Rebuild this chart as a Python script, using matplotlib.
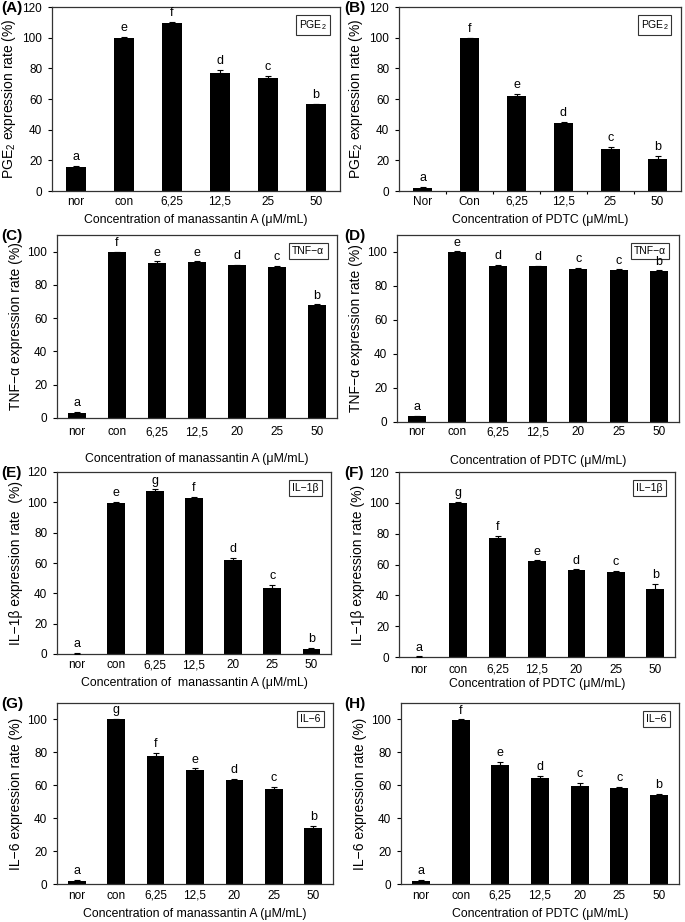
import numpy as np
import matplotlib
matplotlib.use('Agg')
import matplotlib.pyplot as plt

plt.rcParams.update({'font.family': ['Liberation Sans', 'DejaVu Sans'],
                     'font.size': 9, 'axes.linewidth': 0.9,
                     'axes.edgecolor': '#333333',
                     'mathtext.fontset': 'custom',
                     'mathtext.rm': 'Liberation Sans'})

# ---- data ----
cats_a = ['nor', 'con', '6,25', '12,5', '25', '50']
vals_a = [15.7, 100.0, 109.5, 76.8, 73.5, 56.5]
err_a = [0.5, 0.3, 0.8, 2.0, 1.5, 0.5]
lett_a = ['a', 'e', 'f', 'd', 'c', 'b']

cats_b = ['Nor', 'Con', '6,25', '12,5', '25', '50']
vals_b = [2.0, 99.8, 62.2, 44.3, 27.3, 20.8]
err_b = [0.5, 0.3, 1.0, 1.0, 1.5, 2.0]
lett_b = ['a', 'f', 'e', 'd', 'c', 'b']

cats_7 = ['nor', 'con', '6,25', '12,5', '20', '25', '50']

vals_c = [3.0, 99.6, 93.3, 93.7, 91.8, 91.0, 68.0]
err_c = [0.5, 0.3, 0.8, 0.5, 0.4, 0.5, 0.3]
lett_c = ['a', 'f', 'e', 'e', 'd', 'c', 'b']

vals_d = [3.3, 100.2, 92.0, 91.5, 90.2, 89.4, 88.9]
err_d = [0.5, 0.2, 0.5, 0.4, 0.5, 0.4, 0.3]
lett_d = ['a', 'e', 'd', 'd', 'c', 'c', 'b']

vals_e = [0.3, 99.8, 107.6, 103.0, 62.3, 43.6, 3.0]
err_e = [0.3, 0.4, 1.0, 0.5, 1.2, 2.0, 1.0]
lett_e = ['a', 'e', 'g', 'f', 'd', 'c', 'b']

vals_f = [0.2, 100.2, 77.0, 62.3, 56.4, 55.4, 44.3]
err_f = [0.2, 0.2, 1.5, 0.3, 0.5, 0.5, 3.0]
lett_f = ['a', 'g', 'f', 'e', 'd', 'c', 'b']

vals_g = [2.0, 100.2, 78.0, 69.0, 63.0, 57.6, 34.2]
err_g = [0.3, 0.2, 1.5, 1.2, 1.0, 1.5, 1.0]
lett_g = ['a', 'g', 'f', 'e', 'd', 'c', 'b']

vals_h = [2.0, 99.8, 72.2, 64.5, 59.8, 58.4, 53.8]
err_h = [0.3, 0.3, 2.0, 1.0, 1.5, 0.5, 0.8]
lett_h = ['a', 'f', 'e', 'd', 'c', 'c', 'b']

xlab_m = 'Concentration of manassantin A (\u03bcM/mL)'
xlab_p = 'Concentration of PDTC (\u03bcM/mL)'

W, H = 685, 922
fig = plt.figure(figsize=(W / 100, H / 100), dpi=100)


def box(l, r, t, b):
    # pixel box -> figure fraction
    return [l / W, 1 - b / H, (r - l) / W, (b - t) / H]


def panel(rect, tag, tag_xy, cats, vals, errs, letts, ylab, xlab, key, ymax,
          width=0.4, tick_pad=4, xlab_pad=4, mid_ticks=False):
    ax = fig.add_axes(box(*rect))
    x = np.arange(len(cats))
    # key box first so the letters sit on top of it
    ax.text(0.955, 0.94, key, transform=ax.transAxes, ha='right', va='top',
            fontsize=7.5,
            bbox=dict(boxstyle='square,pad=0.3', fc='white', ec='#333333',
                      lw=0.8))
    ax.bar(x, vals, width=width, color='black', zorder=2)
    ax.errorbar(x, vals, yerr=[np.zeros(len(vals)), errs], fmt='none',
                ecolor='black', elinewidth=0.8, capsize=2.5, capthick=0.8,
                zorder=3)
    for xi, v, e, s in zip(x, vals, errs, letts):
        ax.annotate(s, (xi, v + e), xytext=(0, 2), textcoords='offset points',
                    ha='center', va='bottom', fontsize=9)
    ax.set_xlim(-0.5, len(cats) - 0.5)
    ax.set_ylim(0, ymax)
    ax.set_yticks(np.arange(0, ymax + 1, 20) if ymax == 120 else np.arange(0, 101, 20))
    ax.set_xticks(x)
    ax.set_xticklabels(cats)
    ax.tick_params(axis='x', length=0, pad=tick_pad, labelsize=8.5)
    ax.tick_params(axis='y', length=3, width=0.8, direction='out', pad=4,
                   labelsize=8.5)
    if mid_ticks:
        ax.set_xticks(np.arange(0.5, len(cats) - 1, 1), minor=True)
        ax.tick_params(axis='x', which='minor', length=2.5, width=0.8,
                       direction='out')
    ax.set_xlabel(xlab, fontsize=8.8, labelpad=xlab_pad)
    ax.set_ylabel(ylab, fontsize=10, labelpad=3)
    fig.text(tag_xy[0] / W, 1 - tag_xy[1] / H, tag,
             fontsize=11, fontweight='bold', va='top', ha='left')
    return ax


pge = 'PGE$_2$'
panel((52, 340, 7, 191), '(A)', (1, 1), cats_a, vals_a, err_a, lett_a,
      pge + ' expression rate (%)', xlab_m, pge, 120,
      tick_pad=3.6, xlab_pad=4)
panel((399, 681, 7, 191), '(B)', (344, 1), cats_b, vals_b, err_b, lett_b,
      pge + ' expression rate (%)', xlab_p, pge, 120,
      tick_pad=3.6, xlab_pad=4, mid_ticks=True)
panel((57, 337, 235, 418), '(C)', (1, 229), cats_7, vals_c, err_c, lett_c,
      'TNF\u2212\u03b1 expression rate (%)', xlab_m, 'TNF\u2212\u03b1', 110,
      width=0.45, tick_pad=5.8, xlab_pad=11)
panel((397, 679, 235, 422), '(D)', (344, 229), cats_7, vals_d, err_d, lett_d,
      'TNF\u2212\u03b1 expression rate (%)', xlab_p, 'TNF\u2212\u03b1', 110,
      width=0.45, tick_pad=3, xlab_pad=12)
panel((57, 331, 472, 654), '(E)', (1, 466), cats_7, vals_e, err_e, lett_e,
      'IL\u22121\u03b2 expression rate  (%)',
      'Concentration of  manassantin A (\u03bcM/mL)', 'IL\u22121\u03b2', 120,
      width=0.45, tick_pad=3.6, xlab_pad=4)
panel((399, 675, 472, 657), '(F)', (344, 466), cats_7, vals_f, err_f, lett_f,
      'IL\u22121\u03b2 expression rate (%)', xlab_p, 'IL\u22121\u03b2', 120,
      width=0.45, tick_pad=4.7, xlab_pad=2)
panel((57, 333, 703, 884), '(G)', (1, 697), cats_7, vals_g, err_g, lett_g,
      'IL\u22126 expression rate (%)', xlab_m, 'IL\u22126', 110,
      width=0.45, tick_pad=4.3, xlab_pad=4)
panel((401, 679, 703, 884), '(H)', (344, 697), cats_7, vals_h, err_h, lett_h,
      'IL\u22126 expression rate (%)', xlab_p, 'IL\u22126', 110,
      width=0.45, tick_pad=4.3, xlab_pad=4)

fig.savefig('out.png', dpi=100)
